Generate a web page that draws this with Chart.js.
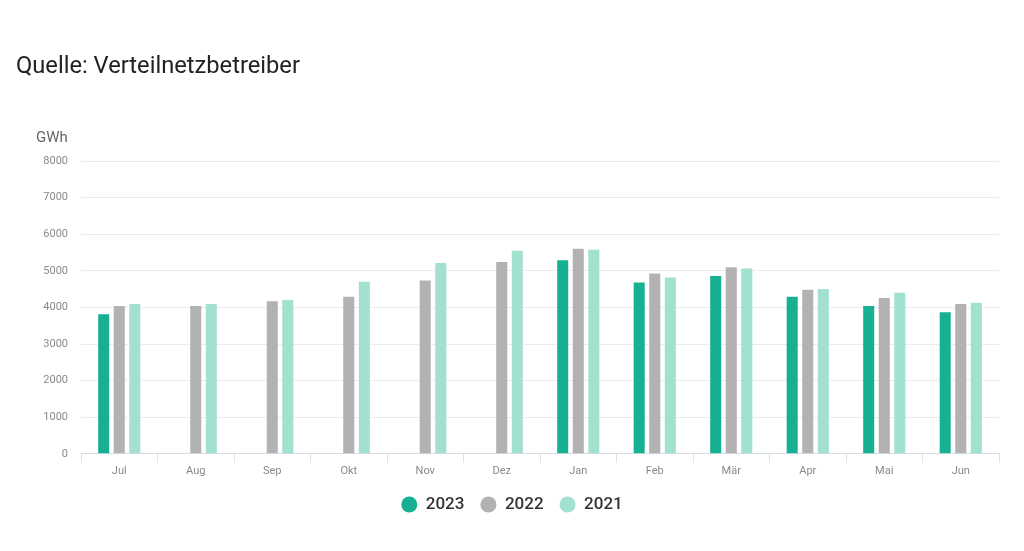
<!DOCTYPE html>
<html>
<head>
<meta charset="utf-8">
<script src="https://cdn.jsdelivr.net/npm/chart.js@4"></script>
<style>
  html, body { margin: 0; padding: 0; background: #fff; }
  #wrap { position: relative; width: 1024px; height: 551px; }
  #title { position: absolute; left: 16px; top: 53px; font: 400 23.7px/24px Roboto, sans-serif; color: #222; white-space: nowrap; }
  #unit { position: absolute; left: 36px; top: 130px; font: 400 15px/15px Roboto, sans-serif; color: #666; }
  canvas { position: absolute; left: 0; top: 0; }
</style>
</head>
<body>
<div id="wrap">
  <canvas id="chart" width="1024" height="551"></canvas>
  <div id="title">Quelle: Verteilnetzbetreiber</div>
  <div id="unit">GWh</div>
</div>
<script>
// monthly values in GWh, July to June
const months = ['Jul', 'Aug', 'Sep', 'Okt', 'Nov', 'Dez', 'Jan', 'Feb', 'Mär', 'Apr', 'Mai', 'Jun'];
const years = ['2023', '2022', '2021'];
const values2023 = [3815, null, null, null, null, null, 5290, 4680, 4855, 4290, 4035, 3870];
const values2022 = [4035, 4035, 4170, 4290, 4735, 5240, 5600, 4925, 5100, 4480, 4260, 4095];
const values2021 = [4090, 4090, 4200, 4700, 5210, 5545, 5575, 4815, 5060, 4505, 4400, 4125];
const colors = ['#17b092', '#b2b2b2', '#a2e0d0'];

const series = [values2023, values2022, values2021];

const ctx = document.getElementById('chart').getContext('2d');
new Chart(ctx, {
  type: 'bar',
  data: {
    labels: months,
    datasets: years.map((y, i) => ({
      label: y,
      data: series[i],
      backgroundColor: colors[i],
      borderWidth: 0,
      barPercentage: 0.71,
      categoryPercentage: 0.61
    }))
  },
  options: {
    responsive: false,
    animation: false,
    layout: { padding: { top: 161, right: 25, left: 25, bottom: 28 } },
    plugins: {
      tooltip: { enabled: false },
      legend: {
        position: 'bottom',
        labels: {
          usePointStyle: true,
          pointStyle: 'circle',
          pointStyleWidth: 16,
          boxHeight: 11.3,
          padding: 16,
          color: '#333',
          font: { family: 'Roboto', size: 17, weight: '500' }
        }
      }
    },
    scales: {
      x: {
        grid: { drawOnChartArea: false, tickLength: 9, color: '#dde1e8' },
        border: { color: '#d6dbe4' },
        ticks: { color: '#8a8a8a', padding: 2, font: { family: 'Roboto', size: 11 } }
      },
      y: {
        min: 0,
        max: 8000,
        afterFit: s => { s.width = 56; },
        grid: { drawTicks: false, color: '#ececec' },
        border: { display: false },
        ticks: {
          stepSize: 1000,
          padding: 13,
          color: '#8a8a8a',
          font: { family: 'Roboto', size: 11 },
          callback: v => String(v)
        }
      }
    }
  }
});
</script>
</body>
</html>
